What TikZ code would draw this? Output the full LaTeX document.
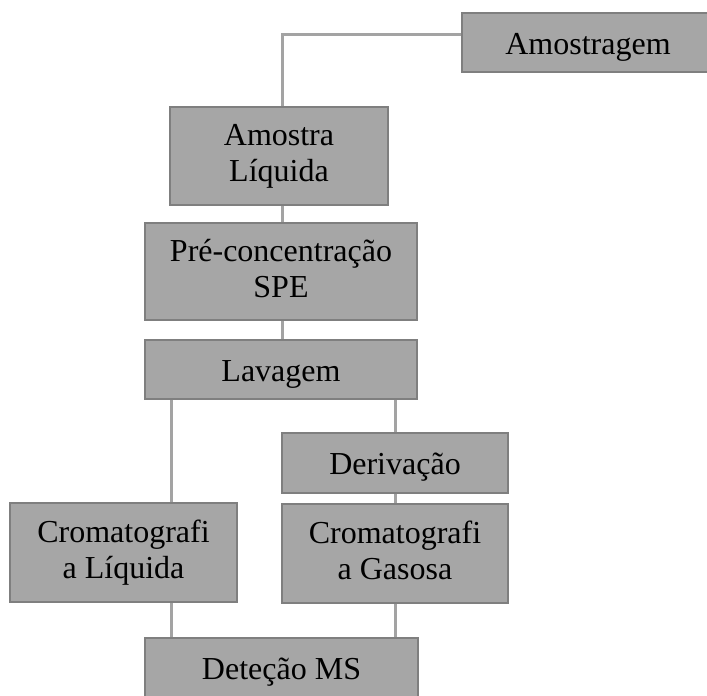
\documentclass[tikz,border=0pt]{standalone}
\usepackage{fontspec}
\setmainfont{Liberation Serif}
\usetikzlibrary{positioning}
\definecolor{boxgray}{HTML}{A6A6A6}
\definecolor{edgegray}{HTML}{7F7F7F}
\definecolor{linkgray}{HTML}{A3A3A3}
\newcommand{\boxstrut}{\rule[-6pt]{0pt}{36pt}}

\begin{document}
\begin{tikzpicture}[x=1pt, y=-1pt, % one unit = one pixel of the sketch
    stepbox/.style={draw=edgegray, line width=2pt, fill=boxgray, align=center,
        inner sep=0pt, font=\fontsize{32}{36}\selectfont,
        execute at begin node=\boxstrut, execute at end node=\boxstrut},
    link/.style={draw=linkgray, line width=3pt}]
    \useasboundingbox (0,0) rectangle (707,696);

    % Boxes
    \node[stepbox, minimum width=252, minimum height=59] (amostragem) at (588,42.5) {Amostragem};
    \node[stepbox, minimum width=218, minimum height=98] (liquida) at (279,156) {Amostra\\Líquida};
    \node[stepbox, minimum width=272, minimum height=97] (spe) at (281,271.5) {Pré-concentração\\SPE};
    \node[stepbox, minimum width=272, minimum height=59] (lavagem) at (281,369.5) {Lavagem};
    \node[stepbox, minimum width=226, minimum height=60] (derivacao) at (395,463) {Derivação};
    \node[stepbox, minimum width=227, minimum height=99] (cromliq) at (123.5,552.5) {Cromatografi\\a Líquida};
    \node[stepbox, minimum width=226, minimum height=99] (cromgas) at (395,553.5) {Cromatografi\\a Gasosa};
    \node[stepbox, minimum width=273, minimum height=59] (detecao) at (281.5,667.5) {Deteção MS};

    % Connectors
    \coordinate (trunk) at ([xshift=3pt]liquida.south);
    \coordinate (splitleft) at ([xshift=-110pt]lavagem.south);
    \draw[link] ([yshift=8pt]amostragem.west) -| (trunk |- liquida.north);
    \draw[link] (trunk) -- (trunk |- spe.north);
    \draw[link] (trunk |- spe.south) -- (trunk |- lavagem.north);
    \draw[link] (splitleft) -- (splitleft |- cromliq.north);
    \draw[link] (derivacao.north |- lavagem.south) -- (derivacao.north);
    \draw[link] (derivacao.south) -- (cromgas.north);
    \draw[link] (splitleft |- cromliq.south) -- (splitleft |- detecao.north);
    \draw[link] (cromgas.south) -- (cromgas.south |- detecao.north);
\end{tikzpicture}
\end{document}
